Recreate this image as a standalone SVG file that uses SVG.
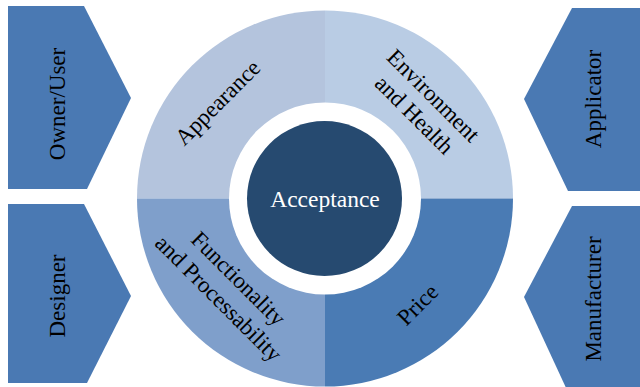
<svg xmlns="http://www.w3.org/2000/svg" width="640" height="387" viewBox="0 0 640 387">
<style>
.chev{fill:#4a79b3}
.lbl{font-family:"Liberation Serif","Times New Roman",serif;font-size:23px;fill:#000;text-anchor:middle}
.wl{fill:#fff}
</style>
<rect width="640" height="387" fill="#fff"/>
<g id="owner-user">
<polygon class="chev" points="8,6 84,6 131,98 87,189 8,189"/>
<text class="lbl" transform="translate(65,104) rotate(-90)">Owner/User</text>
</g>
<g id="designer">
<polygon class="chev" points="8,204 84,204 131,296 87,383 8,383"/>
<text class="lbl" transform="translate(65,296) rotate(-90)">Designer</text>
</g>
<g id="applicator">
<polygon class="chev" points="572,8 640,8 640,191 568,191 524,99"/>
<text class="lbl" transform="translate(601,99) rotate(-90)">Applicator</text>
</g>
<g id="manufacturer">
<polygon class="chev" points="572,206 640,206 640,390 567,390 524,297"/>
<text class="lbl" transform="translate(601,299) rotate(-90)">Manufacturer</text>
</g>
<g id="appearance">
<path d="M325,198.5 L137,198.5 A188,188 0 0 1 325,10.5 Z" fill="#b4c4dd"/>
<text class="lbl" transform="translate(223,108) rotate(-45)">Appearance</text>
</g>
<g id="environment-health">
<path d="M325,198.5 L325,10.5 A188,188 0 0 1 513,198.5 Z" fill="#b9cce4"/>
<text class="lbl" transform="translate(428,101) rotate(45)"><tspan x="0" y="0">Environment</tspan><tspan x="0" y="27">and Health</tspan></text>
</g>
<g id="functionality-processability">
<path d="M325,198.5 L325,386.5 A188,188 0 0 1 137,198.5 Z" fill="#7f9fcb"/>
<text class="lbl" transform="translate(233,284) rotate(45)"><tspan x="0" y="0">Functionality</tspan><tspan x="0" y="28">and Processability</tspan></text>
</g>
<g id="price">
<path d="M325,198.5 L513,198.5 A188,188 0 0 1 325,386.5 Z" fill="#4a7bb4"/>
<text class="lbl" transform="translate(423,310) rotate(-45)">Price</text>
</g>
<circle cx="325" cy="198.5" r="96" fill="#fff"/>
<g id="acceptance">
<circle cx="324.5" cy="198.5" r="77.5" fill="#264a70"/>
<text class="lbl wl" x="325" y="207" style="font-size:23.5px">Acceptance</text>
</g>
<g id="connectors"></g>
</svg>
